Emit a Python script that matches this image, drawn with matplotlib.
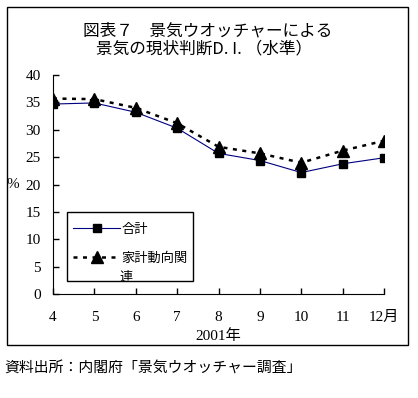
import matplotlib
matplotlib.use('Agg')
import matplotlib.pyplot as plt
from matplotlib.patches import Rectangle

plt.rcParams['font.family'] = ['Noto Sans CJK JP', 'DejaVu Sans']

#%% data
months = [4, 5, 6, 7, 8, 9, 10, 11, 12]
month_labels = ['4', '5', '6', '7', '8', '9', '10', '11', '12月']
total_di = [34.7, 34.9, 33.2, 30.3, 25.7, 24.4, 22.2, 23.8, 24.9]
household_di = [35.7, 35.6, 34.0, 31.2, 26.9, 25.7, 24.0, 26.2, 28.0]
yticks = [0, 5, 10, 15, 20, 25, 30, 35, 40]

#%% figure
fig = plt.figure(figsize=(4.18, 3.98), dpi=100)
ax = fig.add_axes([0.1268, 0.2606, 0.7919, 0.551])

# outer frame around the chart area
fig.patches.append(Rectangle((0.0167, 0.133), 0.959, 0.849, transform=fig.transFigure,
                             fill=False, edgecolor='black', linewidth=1))

ax.plot(months, total_di, color='#000080', linewidth=0.8,
        marker='s', markersize=6, markerfacecolor='black', markeredgecolor='black',
        label='合計')
ax.plot(months, household_di, color='black', linewidth=1.8, linestyle=(0, (1.6, 2.2)),
        marker='^', markersize=9, markerfacecolor='black', markeredgecolor='black',
        label='家計動向関')

ax.set_xlim(4, 12)
ax.set_ylim(0, 40)
ax.set_xticks(months)
ax.set_xticklabels(month_labels)
ax.set_yticks(yticks)
ax.spines['top'].set_visible(False)
ax.spines['right'].set_visible(False)
ax.tick_params(direction='in', length=4, width=1, labelsize=11, colors='black')
ax.tick_params(axis='y', pad=9)
ax.tick_params(axis='x', pad=12)
for lab in ax.get_xticklabels() + ax.get_yticklabels():
    lab.set_family(['Liberation Serif', 'Noto Sans CJK JP'])

#titles and labels
fig.text(0.497, 0.922, '図表７　景気ウオッチャーによる', ha='center', va='center', fontsize=12)
fig.text(0.487, 0.876, '景気の現状判断D. I. （水準）', ha='center', va='center', fontsize=12)
ax.set_xlabel('2001年', fontsize=11, labelpad=4, family=['Liberation Serif', 'Noto Sans CJK JP'])
fig.text(0.03, 1 - 184 / 398, '%', ha='center', va='center', fontsize=11,
         family=['Liberation Serif', 'DejaVu Sans'])
fig.text(0.01, 1 - 368 / 398, '資料出所：内閣府「景気ウオッチャー調査」', ha='left', va='center',
         fontsize=10.7)

#legend with a hand drawn frame so the wrapped label lines up like the original
leg = ax.legend(loc='upper left', bbox_to_anchor=(0.042, 0.352), borderaxespad=0,
                fontsize=9.5, frameon=False,
                handlelength=3.6, handletextpad=0.1, labelspacing=1.2, borderpad=0.45)
ax.add_patch(Rectangle((0.042, 0.061), 0.381, 0.314, transform=ax.transAxes,
                       fill=False, edgecolor='black', linewidth=1))
ax.text(0.2, 0.078, '連', transform=ax.transAxes, ha='left', va='center', fontsize=9.5)

fig.savefig('out.png', dpi=100)
